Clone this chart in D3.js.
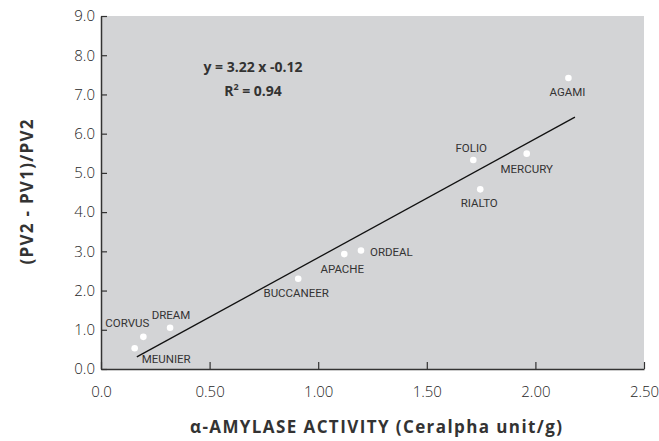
<!DOCTYPE html>
<html>
<head>
<meta charset="utf-8">
<script src="https://d3js.org/d3.v7.min.js"></script>
<style>
body { margin: 0; background: #fff; }
.tick text { font-family: "Open Sans", "Liberation Sans", sans-serif; font-weight: 300; fill: #1e1e1e; }
.lbl { font-family: "Liberation Sans Narrow", "Roboto", sans-serif; font-size: 11.5px; fill: #333; }
.title { font-family: "Open Sans", "Liberation Sans", sans-serif; font-weight: bold; font-size: 14px; fill: #333; }
</style>
</head>
<body>
<div id="chart"></div>
<script>
// varieties and their values
var varieties = ["MEUNIER", "CORVUS", "DREAM", "BUCCANEER", "APACHE", "ORDEAL", "FOLIO", "RIALTO", "MERCURY", "AGAMI"];
var amylase = [0.155, 0.195, 0.318, 0.908, 1.12, 1.197, 1.714, 1.746, 1.96, 2.152];
var pvRatio = [0.53, 0.82, 1.05, 2.30, 2.93, 3.02, 5.33, 4.58, 5.49, 7.42];

// fitted line as drawn
var fitX = [0.165, 2.182];
var fitY = [0.31, 6.42];

var xTicks = [0, 0.5, 1.0, 1.5, 2.0, 2.5];
var xTickLabels = ["0.0", "0.50", "1.00", "1.50", "2.00", "2.50"];
var yTicks = [0, 1, 2, 3, 4, 5, 6, 7, 8, 9];

// label placement (pixels from the point)
var labelPos = {
  MEUNIER:   { dx: 7,   dy: 15,  a: "start" },
  CORVUS:    { dx: -16, dy: -10, a: "middle" },
  DREAM:     { dx: 1,   dy: -9,  a: "middle" },
  BUCCANEER: { dx: -2,  dy: 18,  a: "middle" },
  APACHE:    { dx: -2,  dy: 19,  a: "middle" },
  ORDEAL:    { dx: 9,   dy: 5,   a: "start" },
  FOLIO:     { dx: -2,  dy: -8,  a: "middle" },
  RIALTO:    { dx: -1,  dy: 18,  a: "middle" },
  MERCURY:   { dx: 0,   dy: 19,  a: "middle" },
  AGAMI:     { dx: -1,  dy: 18,  a: "middle" }
};

var W = 659, H = 441;
var svg = d3.select("#chart").append("svg")
  .attr("width", W).attr("height", H);

var x = d3.scaleLinear().domain([0, 2.5]).range([101, 644]);
var y = d3.scaleLinear().domain([0, 9]).range([369, 16]);

// grey plot area
svg.append("rect")
  .attr("x", x(0)).attr("y", y(9))
  .attr("width", x(2.5) - x(0)).attr("height", y(0) - y(9))
  .attr("fill", "#d3d4d6");

// axes
var xAxis = svg.append("g")
  .attr("transform", "translate(0," + y(0) + ")")
  .call(d3.axisBottom(x).tickValues(xTicks).tickSizeInner(-7).tickSizeOuter(0).tickPadding(17)
    .tickFormat(function(d, i){ return xTickLabels[i]; }));
xAxis.selectAll(".tick text").style("font-size", "15px");

var yAxis = svg.append("g")
  .attr("transform", "translate(" + x(0) + ",0)")
  .call(d3.axisLeft(y).tickValues(yTicks).tickSizeInner(-6).tickSizeOuter(0).tickPadding(6)
    .tickFormat(d3.format(".1f")));
yAxis.selectAll(".tick text").style("font-size", "15px");

svg.selectAll(".domain").attr("stroke", "#333").attr("stroke-width", 1.5);
svg.selectAll(".tick line").attr("stroke", "#333").attr("stroke-width", 1.2);

// regression line
svg.append("line")
  .attr("x1", x(fitX[0])).attr("y1", y(fitY[0]))
  .attr("x2", x(fitX[1])).attr("y2", y(fitY[1]))
  .attr("stroke", "#111").attr("stroke-width", 1.3);

// points
var pts = varieties.map(function(v, i){ return { name: v, a: amylase[i], r: pvRatio[i] }; });

svg.selectAll("circle.pt").data(pts).enter()
  .append("circle").attr("class", "pt")
  .attr("cx", function(d){ return x(d.a); })
  .attr("cy", function(d){ return y(d.r); })
  .attr("r", 3.3)
  .attr("fill", "#fff");

svg.selectAll("text.lbl").data(pts).enter()
  .append("text").attr("class", "lbl")
  .attr("x", function(d){ return x(d.a) + labelPos[d.name].dx; })
  .attr("y", function(d){ return y(d.r) + labelPos[d.name].dy; })
  .attr("text-anchor", function(d){ return labelPos[d.name].a; })
  .text(function(d){ return d.name; });

// equation
svg.append("text").attr("class", "title")
  .attr("x", 253).attr("y", 72)
  .attr("text-anchor", "middle").style("font-size", "14px")
  .text("y = 3.22 x -0.12");
var r2 = svg.append("text").attr("class", "title")
  .attr("x", 253).attr("y", 96)
  .attr("text-anchor", "middle").style("font-size", "14px");
r2.append("tspan").text("R");
r2.append("tspan").attr("dy", -6).style("font-size", "9px").text("2");
r2.append("tspan").attr("dy", 6).text(" = 0.94");

// axis titles
svg.append("text").attr("class", "title")
  .attr("x", 376).attr("y", 433)
  .attr("text-anchor", "middle").style("font-size", "17px")
  .attr("textLength", 372).attr("lengthAdjust", "spacing")
  .text("\u03B1-AMYLASE ACTIVITY (Ceralpha unit/g)");

svg.append("text").attr("class", "title")
  .attr("transform", "translate(33,192) rotate(-90)")
  .attr("text-anchor", "middle").style("font-size", "17px")
  .attr("textLength", 145).attr("lengthAdjust", "spacing")
  .text("(PV2 - PV1)/PV2");
</script>
</body>
</html>
